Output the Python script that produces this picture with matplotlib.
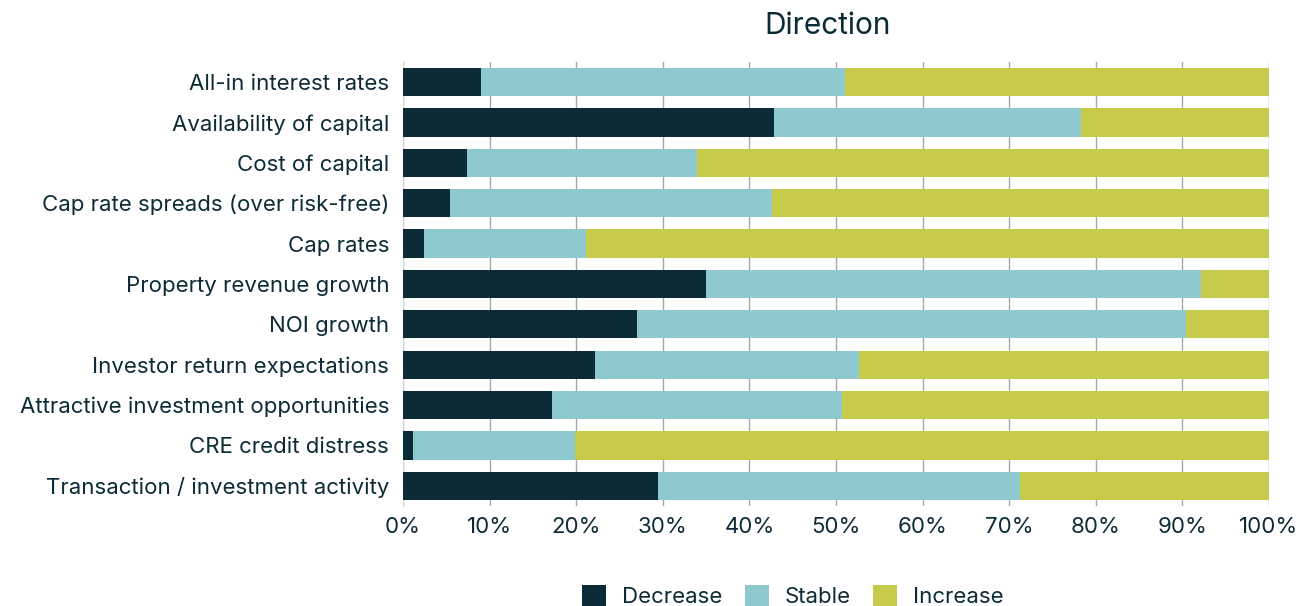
import numpy as np
import matplotlib
matplotlib.use("Agg")
import matplotlib.pyplot as plt
from matplotlib import ticker

# Survey responses, share of respondents (%)
factors = [
    "All-in interest rates",
    "Availability of capital",
    "Cost of capital",
    "Cap rate spreads (over risk-free)",
    "Cap rates",
    "Property revenue growth",
    "NOI growth",
    "Investor return expectations",
    "Attractive investment opportunities",
    "CRE credit distress",
    "Transaction / investment activity",
]
decrease = [9.0, 42.8, 7.4, 5.4, 2.4, 35.0, 27.0, 22.2, 17.2, 1.2, 29.4]
stable = [42.0, 35.5, 26.5, 37.2, 18.7, 57.1, 63.4, 30.5, 33.5, 18.7, 41.8]
increase = [49.0, 21.7, 66.1, 57.4, 78.9, 7.9, 9.6, 47.3, 49.3, 80.1, 28.8]

navy = "#0b2b37"
teal = "#8ec9cf"
lime = "#c6cb4c"

plt.rcParams["font.family"] = ["Inter", "DejaVu Sans"]
plt.rcParams["text.color"] = navy

fig = plt.figure(figsize=(13.06, 6.06), dpi=100)
ax = fig.add_axes([0.3086, 0.165, 0.6631, 0.733])

y = np.arange(len(factors))
dec = np.array(decrease)
sta = np.array(stable)
inc = np.array(increase)

ax.barh(y, dec, height=0.7, color=navy, label="Decrease", zorder=3)
ax.barh(y, sta, left=dec, height=0.7, color=teal, label="Stable", zorder=3)
ax.barh(y, inc, left=dec + sta, height=0.7, color=lime, label="Increase", zorder=3)

ax.set_ylim(len(factors) - 0.5, -0.5)
ax.set_xlim(0, 100)
ax.set_yticks(y)
ax.set_yticklabels(factors, fontsize=16, color=navy)
ax.xaxis.set_major_locator(ticker.MultipleLocator(10))
ax.xaxis.set_major_formatter(ticker.FuncFormatter(lambda v, p: f"{v:.0f}%"))
ax.tick_params(axis="x", labelsize=16, labelcolor=navy, length=0, pad=8)
ax.tick_params(axis="y", length=0, pad=10)

ax.grid(axis="x", color="#a8a8a8", linewidth=1, zorder=0)
for s in ["top", "right", "bottom"]:
    ax.spines[s].set_visible(False)
ax.spines["left"].set_color("#d8d8d8")

ax.set_title("Direction", fontsize=21.5, color=navy, pad=20, x=0.49)

ax.legend(loc="upper center", bbox_to_anchor=(0.45, -0.133), ncol=3,
          frameon=False, fontsize=16, handlelength=1.1, handleheight=1.1,
          columnspacing=1.0, handletextpad=0.7)

fig.savefig("out.png", dpi=100)
